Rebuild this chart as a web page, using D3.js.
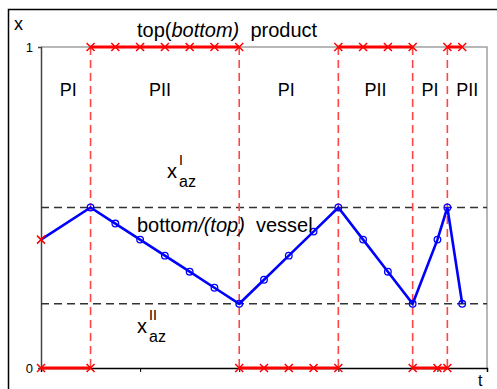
<!DOCTYPE html>
<html>
<head>
<meta charset="utf-8">
<script src="https://cdn.jsdelivr.net/npm/d3@7"></script>
<style>
  html, body { margin: 0; padding: 0; background: #fff; }
  svg { display: block; }
  text { font-family: "Liberation Sans", Arial, Helvetica, sans-serif; fill: #000; }
</style>
</head>
<body>
<svg id="chart" width="497" height="389"></svg>
<script>
// Composition x of the vessel over time t
const vesselT = [0, 2, 3, 4, 5, 6, 7, 8, 9, 10, 11, 12, 13, 14, 15, 16, 16.4, 17];
const vesselX = [0.4, 0.5, 0.45, 0.4, 0.35, 0.3, 0.25, 0.2, 0.275, 0.35, 0.425, 0.5, 0.4, 0.3, 0.2, 0.4, 0.5, 0.2];

// Product draw-off: 1 = top product, 0 = bottom product (repeated t marks a switch)
const productT = [0, 2, 2, 3, 4, 5, 6, 7, 8, 8, 9, 10, 11, 12, 12, 13, 14, 15, 15, 16, 16.4, 16.4, 17];
const productX = [0, 0, 1, 1, 1, 1, 1, 1, 1, 0, 0, 0, 0, 0, 1, 1, 1, 1, 0, 0, 0, 1, 1];

// Azeotrope compositions
const azeoNames = ["I", "II"];
const azeoX = [0.5, 0.2];

// Phase labels between switches
const phaseNames = ["PI", "PII", "PI", "PII", "PI", "PII"];
const phaseT = [1.1, 4.8, 9.9, 13.5, 15.7, 17.2];

const xTicks = [0, 4, 8, 12, 16];
const yTicks = [0, 1];

const svg = d3.select("#chart");
const x = d3.scaleLinear().domain([0, 18]).range([41, 487]);
const y = d3.scaleLinear().domain([0, 1]).range([368, 47]);

// outer frame
svg.append("rect").attr("x", 8.5).attr("y", 9.5).attr("width", 520).attr("height", 420)
  .attr("fill", "none").attr("stroke", "#000").attr("stroke-width", 1.5);

// plot frame (top and right)
svg.append("path")
  .attr("d", `M${x(0)},${y(1)}H${x(18)}V${y(0)}`)
  .attr("fill", "none").attr("stroke", "#a0a0a0").attr("stroke-width", 1.5);

// axes
const gx = svg.append("g").attr("transform", `translate(0,${y(0)})`)
  .call(d3.axisBottom(x).tickValues(xTicks).tickSize(4).tickFormat(""));
gx.select(".domain").attr("stroke", "#000").attr("stroke-width", 1.5);
gx.selectAll(".tick line").attr("stroke", "#000");

const gy = svg.append("g").attr("transform", `translate(${x(0)},0)`)
  .call(d3.axisLeft(y).tickValues(yTicks).tickSize(3).tickFormat(d3.format("d")));
gy.select(".domain").attr("stroke", "#444").attr("stroke-width", 1.5);
gy.selectAll(".tick line").attr("stroke", "#444");
gy.selectAll(".tick text").attr("fill", "#000").attr("x", -8).attr("dy", "0.35em")
  .style("font-size", "13px");

// azeotrope lines
svg.append("g").selectAll("line").data(azeoX).join("line")
  .attr("x1", x(0)).attr("x2", x(18))
  .attr("y1", d => y(d)).attr("y2", d => y(d))
  .attr("stroke", "#333").attr("stroke-width", 1.5).attr("stroke-dasharray", "8,5");

// product: solid runs and dashed switches
const prodPts = productT.map((t, i) => ({ t, v: productX[i] }));
const runs = [], switches = [];
let cur = [prodPts[0]];
for (let i = 1; i < prodPts.length; i++) {
  if (prodPts[i].t === prodPts[i - 1].t) {
    runs.push(cur);
    switches.push(prodPts[i].t);
    cur = [prodPts[i]];
  } else cur.push(prodPts[i]);
}
runs.push(cur);

svg.append("g").selectAll("line").data(switches).join("line")
  .attr("x1", d => x(d)).attr("x2", d => x(d))
  .attr("y1", y(1)).attr("y2", y(0))
  .attr("stroke", "#ff4545").attr("stroke-width", 1.6).attr("stroke-dasharray", "8,5");

const lineP = d3.line().x(d => x(d.t)).y(d => y(d.v));
svg.append("g").selectAll("path").data(runs).join("path")
  .attr("d", lineP).attr("fill", "none").attr("stroke", "#ff0000").attr("stroke-width", 3);

function cross(g, px, py) {
  const s = 4;
  g.append("path").attr("d", `M${px - s},${py - s}L${px + s},${py + s}M${px - s},${py + s}L${px + s},${py - s}`)
    .attr("stroke", "#ff0000").attr("stroke-width", 1.5).attr("fill", "none");
}
const gm = svg.append("g");
prodPts.forEach(p => cross(gm, x(p.t), y(p.v)));

// vessel composition
const vesselPts = vesselT.map((t, i) => ({ t, v: vesselX[i] }));
svg.append("path").datum(vesselPts).attr("d", lineP)
  .attr("fill", "none").attr("stroke", "#0000ff").attr("stroke-width", 2.6);
svg.append("g").selectAll("circle").data(vesselPts.slice(1)).join("circle")
  .attr("cx", d => x(d.t)).attr("cy", d => y(d.v)).attr("r", 3.3)
  .attr("fill", "none").attr("stroke", "#0000ff").attr("stroke-width", 1.3);
cross(svg.append("g"), x(vesselPts[0].t), y(vesselPts[0].v));

// phase labels
svg.append("g").selectAll("text").data(phaseNames).join("text")
  .attr("x", (d, i) => x(phaseT[i])).attr("y", 96)
  .attr("text-anchor", "middle").attr("font-size", 18).text(d => d);

// title texts
const t1 = svg.append("text").attr("x", 137).attr("y", 37).attr("font-size", 20).attr("xml:space", "preserve");
t1.append("tspan").text("top(");
t1.append("tspan").attr("font-style", "italic").text("bottom)");
t1.append("tspan").text("  product");

const t2 = svg.append("text").attr("x", 137).attr("y", 232).attr("font-size", 20).attr("xml:space", "preserve");
t2.append("tspan").text("botto");
t2.append("tspan").attr("font-style", "italic").text("m/(top)");
t2.append("tspan").text("  vessel");

// azeotrope labels
const azPos = [[167, 178], [137, 333]];
azeoNames.forEach((n, i) => {
  const [ax, ay] = azPos[i];
  svg.append("text").attr("x", ax).attr("y", ay).attr("font-size", 20).text("x");
  svg.append("text").attr("x", ax + 12).attr("y", ay - 13).attr("font-size", 14).text(n);
  svg.append("text").attr("x", ax + 12).attr("y", ay + 9).attr("font-size", 16).text("az");
});

// axis names
svg.append("text").attr("x", 14).attr("y", 30).attr("font-size", 18).text("x");
svg.append("text").attr("x", 478).attr("y", 386).attr("font-size", 16).text("t");
</script>
</body>
</html>
